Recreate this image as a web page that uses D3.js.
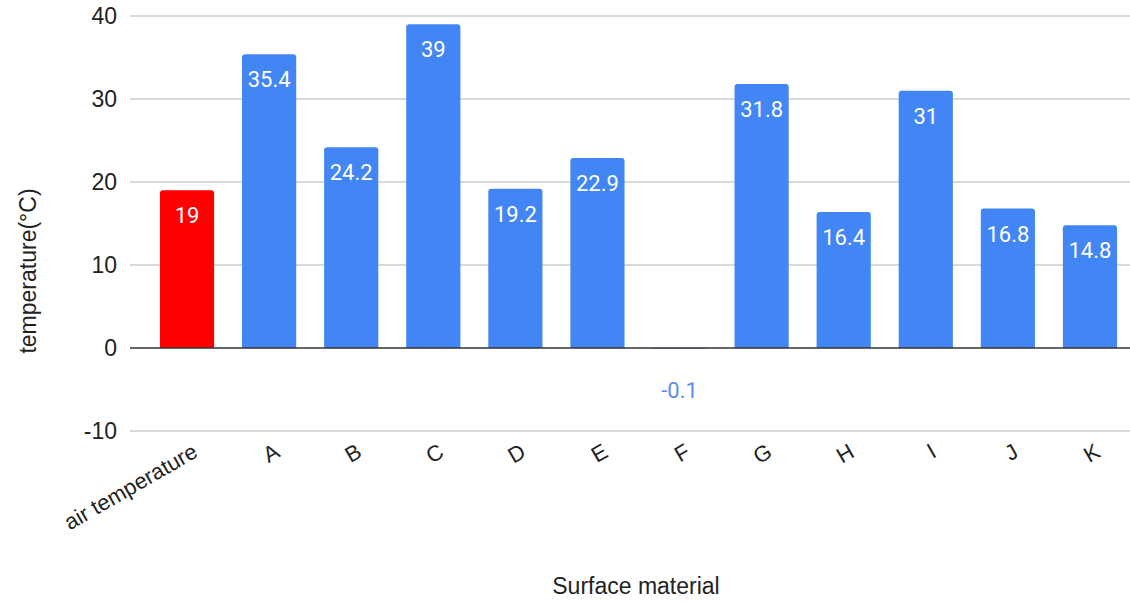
<!DOCTYPE html>
<html>
<head>
    <script src="https://d3js.org/d3.v7.min.js"></script>
    <title>Surface temperature</title>
    <style>
        body { margin: 0; background: #fff; }
        svg text { font-family: "Liberation Sans", Arial, sans-serif; }
        svg text.value { font-family: Roboto, "Liberation Sans", sans-serif; }
    </style>
</head>
<body>
    <div id="chart"></div>
    <script>
        // categories and readings
        var categories = ["air temperature", "A", "B", "C", "D", "E", "F", "G", "H", "I", "J", "K"];
        var temperatures = [19, 35.4, 24.2, 39, 19.2, 22.9, -0.1, 31.8, 16.4, 31, 16.8, 14.8];
        var yTicks = [-10, 0, 10, 20, 30, 40];

        var width = 1130, height = 603;
        var gridLeft = 130, plotLeft = 146, plotRight = 1131;
        var plotTop = 16, plotBottom = 431;

        var svg = d3.select('#chart').append('svg')
            .attr('width', width)
            .attr('height', height);

        var x = d3.scaleBand()
            .domain(categories)
            .range([plotLeft, plotRight])
            .paddingInner(0.34)
            .paddingOuter(0.17);

        var y = d3.scaleLinear()
            .domain([-10, 40])
            .range([plotBottom, plotTop]);

        // gridlines
        svg.append('g').selectAll('line')
            .data(yTicks.filter(function(d) { return d !== 0; }))
            .enter().append('line')
            .attr('x1', gridLeft).attr('x2', width)
            .attr('y1', function(d) { return y(d); })
            .attr('y2', function(d) { return y(d); })
            .attr('stroke', '#cccccc')
            .attr('stroke-width', 1.5);

        // y axis labels
        var yAxis = svg.append('g')
            .attr('transform', 'translate(' + gridLeft + ',0)')
            .call(d3.axisLeft(y).tickValues(yTicks).tickSize(0).tickPadding(13)
                .tickFormat(function(d) { return d; }));
        yAxis.select('.domain').remove();
        yAxis.selectAll('text')
            .attr('font-size', 23)
            .attr('font-family', '"Liberation Sans", Arial, sans-serif')
            .attr('fill', '#222');

        // bars with rounded top corners
        function barPath(d, i) {
            var v = temperatures[i];
            var x0 = x(d), w = x.bandwidth();
            var top = y(Math.max(v, 0)), bottom = y(Math.min(v, 0));
            var r = Math.min(3, bottom - top);
            if (v < 0) {
                return 'M' + x0 + ',' + top + 'H' + (x0 + w) + 'V' + bottom + 'H' + x0 + 'Z';
            }
            return 'M' + x0 + ',' + bottom +
                'V' + (top + r) +
                'Q' + x0 + ',' + top + ' ' + (x0 + r) + ',' + top +
                'H' + (x0 + w - r) +
                'Q' + (x0 + w) + ',' + top + ' ' + (x0 + w) + ',' + (top + r) +
                'V' + bottom + 'Z';
        }

        svg.append('g').selectAll('path')
            .data(categories)
            .enter().append('path')
            .attr('d', barPath)
            .attr('fill', function(d, i) { return i === 0 ? '#ff0000' : '#4285f4'; });

        // zero line
        svg.append('line')
            .attr('x1', gridLeft).attr('x2', width)
            .attr('y1', y(0)).attr('y2', y(0))
            .attr('stroke', '#333')
            .attr('stroke-width', 1.5);

        // value labels
        svg.append('g').selectAll('text')
            .data(categories)
            .enter().append('text')
            .attr('class', 'value')
            .attr('x', function(d) { return x(d) + x.bandwidth() / 2; })
            .attr('y', function(d, i) {
                var v = temperatures[i];
                return v < 0 ? y(0) + 50 : y(v) + 33;
            })
            .attr('text-anchor', 'middle')
            .attr('font-size', 22)
            .attr('fill', function(d, i) { return temperatures[i] < 0 ? '#5b8def' : '#ffffff'; })
            .text(function(d, i) { return temperatures[i]; });

        // x axis labels, rotated
        svg.append('g').selectAll('text')
            .data(categories)
            .enter().append('text')
            .attr('transform', function(d) {
                return 'translate(' + (x(d) + x.bandwidth() / 2 + 12) + ',' + 456 + ') rotate(-30)';
            })
            .attr('text-anchor', 'end')
            .attr('font-size', 22)
            .attr('fill', '#222')
            .text(function(d) { return d; });

        // axis titles
        svg.append('text')
            .attr('transform', 'translate(36,' + 271 + ') rotate(-90)')
            .attr('text-anchor', 'middle')
            .attr('font-size', 23)
            .attr('fill', '#222')
            .text('temperature(°C)');

        svg.append('text')
            .attr('x', 636)
            .attr('y', 594)
            .attr('text-anchor', 'middle')
            .attr('font-size', 23)
            .attr('fill', '#222')
            .text('Surface material');
    </script>
</body>
</html>
